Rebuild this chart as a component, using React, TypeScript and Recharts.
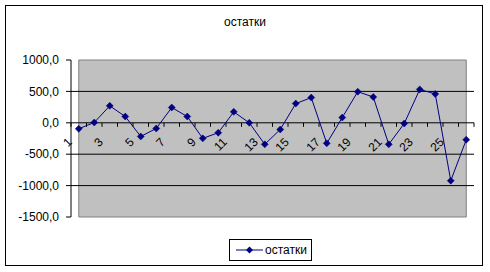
import React from 'react';
import { LineChart, Line, XAxis, YAxis, ReferenceLine, ReferenceArea, Legend } from 'recharts';

const categories = ['1','2','3','4','5','6','7','8','9','10','11','12','13','14','15','16','17','18','19','20','21','22','23','24','25','26'];
const residuals = [-95, 5, 270, 100, -217, -90, 243, 100, -248, -158, 174, 0, -343, -106, 306, 401, -327, 84, 495, 411, -343, -11, 532, 459, -922, -269];
const yTicks = [-1500, -1000, -500, 0, 500, 1000];
const gridValues = [-1000, -500, 0, 500];
const seriesName = 'остатки';
const title = 'остатки';

const data = categories.map((c, i) => ({ cat: c, value: residuals[i] }));

const W = 490;
const H = 272;
const M = { top: 60, right: 16, bottom: 55, left: 6 };
const Y_W = 65;
const Y_MIN = -1500;
const Y_MAX = 1000;
const PLOT_L = M.left + Y_W;
const PLOT_W = W - PLOT_L - M.right;
const PLOT_H = H - M.top - M.bottom;
const STEP = PLOT_W / categories.length;
const ZERO_Y = M.top + (PLOT_H * (Y_MAX - 0)) / (Y_MAX - Y_MIN);
const FONT = 'Arial, "Liberation Sans", sans-serif';
const NAVY = '#000080';

const fmt = (v: number) => v.toFixed(1).replace('.', ',');

const Diamond = (props: any) => {
  const { cx, cy } = props;
  if (cx == null || cy == null) return null;
  const r = 3.5;
  return <path d={`M${cx},${cy - r}L${cx + r},${cy}L${cx},${cy + r}L${cx - r},${cy}Z`} fill={NAVY} stroke={NAVY} strokeWidth={0.5} />;
};

const XTick = (props: any) => {
  const { x, index, payload } = props;
  const showLabel = index % 2 === 0;
  const last = index === categories.length - 1;
  return (
    <g>
      <line x1={x - STEP / 2} x2={x - STEP / 2} y1={ZERO_Y} y2={ZERO_Y + 4} stroke="#000" />
      {last && <line x1={x + STEP / 2} x2={x + STEP / 2} y1={ZERO_Y} y2={ZERO_Y + 4} stroke="#000" />}
      {showLabel && (
        <text
          x={x - 6}
          y={ZERO_Y + 20}
          transform={`rotate(-45 ${x - 6} ${ZERO_Y + 20})`}
          textAnchor="end"
          fontSize={12}
          fontFamily={FONT}
          fill="#000"
        >
          {payload.value}
        </text>
      )}
    </g>
  );
};

const LegendContent = () => (
  <div
    style={{
      border: '1px solid #000',
      width: 83,
      height: 22,
      boxSizing: 'border-box',
      display: 'flex',
      alignItems: 'center',
      fontFamily: FONT,
      fontSize: 12,
      background: '#fff',
    }}
  >
    <svg width={32} height={20} style={{ marginLeft: 5 }}>
      <line x1={1} x2={28} y1={10} y2={10} stroke={NAVY} strokeWidth={1} />
      <path d="M14.5,6.5L18,10L14.5,13.5L11,10Z" fill={NAVY} />
    </svg>
    <span style={{ marginLeft: -2 }}>{seriesName}</span>
  </div>
);

export default function App() {
  return (
    <div style={{ position: 'absolute', left: 0, top: 0, width: W, height: H, background: '#fff' }}>
      <div
        style={{
          position: 'absolute',
          left: 5,
          top: 5,
          width: 478,
          height: 261,
          border: '1px solid #000',
          boxSizing: 'border-box',
        }}
      />
      <div
        style={{
          position: 'absolute',
          left: 0,
          top: 15,
          width: W,
          textAlign: 'center',
          fontFamily: FONT,
          fontSize: 12,
          color: '#000',
        }}
      >
        {title}
      </div>
      <div style={{ position: 'absolute', left: 0, top: 0 }}>
        <LineChart width={W} height={H} data={data} margin={{ top: M.top, right: M.right, bottom: M.bottom - 1, left: M.left }}>
          <ReferenceArea y1={Y_MIN} y2={Y_MAX} fill="#C0C0C0" fillOpacity={1} stroke="#808080" strokeWidth={1} ifOverflow="visible" />
          {gridValues.map((g) => (
            <ReferenceLine key={g} y={g} stroke="#000" strokeWidth={1} />
          ))}
          <XAxis
            dataKey="cat"
            height={1}
            axisLine={false}
            tickLine={false}
            interval={0}
            tick={<XTick />}
            padding={{ left: STEP / 2, right: STEP / 2 }}
          />
          <YAxis
            width={Y_W}
            domain={[Y_MIN, Y_MAX]}
            ticks={yTicks}
            interval={0}
            tickFormatter={fmt}
            axisLine={{ stroke: '#000' }}
            tickLine={{ stroke: '#000' }}
            tickSize={5}
            tickMargin={7}
            tick={{ fontSize: 12, fontFamily: FONT, fill: '#000' }}
          />
          <Legend
            layout="horizontal"
            verticalAlign="middle"
            align="center"
            content={<LegendContent />}
            wrapperStyle={{ position: 'absolute', left: 229, top: 239, width: 'auto' }}
          />
          <Line
            type="linear"
            dataKey="value"
            name={seriesName}
            stroke={NAVY}
            strokeWidth={1}
            dot={<Diamond />}
            activeDot={false}
            isAnimationActive={false}
          />
        </LineChart>
      </div>
    </div>
  );
}
